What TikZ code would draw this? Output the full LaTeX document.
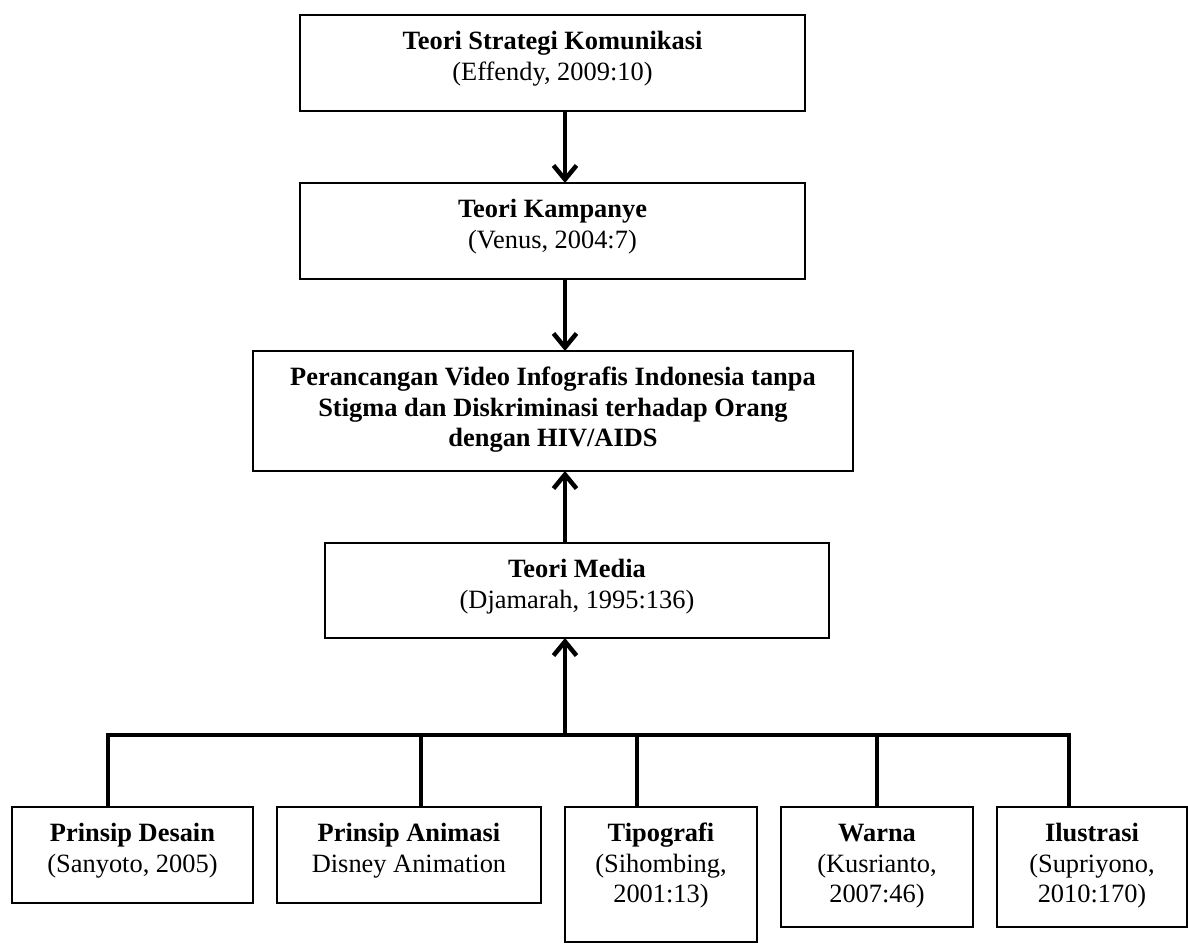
\documentclass[tikz,border=0pt]{standalone}
\usepackage{fontspec}
\setmainfont{Liberation Serif}
\usetikzlibrary{arrows.meta}
\newcommand{\flstrut}{\rule{0pt}{18.5pt}}
\tikzset{
  box/.style={draw=black, line width=1.6pt, inner sep=0pt, outer sep=0pt, fill=white},
  txt/.style={align=center, inner sep=0pt, anchor=north, font=\fontsize{26.4}{30.4}\selectfont},
  arr/.style={line width=4.5pt, -{Straight Barb[length=14pt, width=23pt]}},
  conn/.style={line width=4.5pt, line join=miter}
}
\begin{document}
\begin{tikzpicture}[x=1pt, y=-1pt]
\useasboundingbox (0,0) rectangle (1188,944);
% boxes
\node[box, minimum width=505pt, minimum height=96pt] (t1) at (552.5,63) {};
\node[box, minimum width=505pt, minimum height=96pt] (t2) at (552.5,231) {};
\node[box, minimum width=600pt, minimum height=120pt] (main) at (553,411) {};
\node[box, minimum width=504pt, minimum height=95pt] (media) at (577,590.5) {};
\node[box, minimum width=241pt, minimum height=96pt] (b1) at (132.5,855) {};
\node[box, minimum width=264pt, minimum height=96pt] (b2) at (409,855) {};
\node[box, minimum width=192pt, minimum height=135pt] (b3) at (661,874.5) {};
\node[box, minimum width=192pt, minimum height=120pt] (b4) at (877,867) {};
\node[box, minimum width=190pt, minimum height=120pt] (b5) at (1092,867) {};
% texts
\node[txt] (t1t) at ([yshift=-16pt]t1.north) {\flstrut\textbf{Teori Strategi Komunikasi}\\(Effendy, 2009:10)};
\node[txt] (t2t) at ([yshift=-16pt]t2.north) {\flstrut\textbf{Teori Kampanye}\\(Venus, 2004:7)};
\node[txt, font=\fontsize{26.4}{30.4}\selectfont\bfseries] (maint) at ([yshift=-16pt]main.north) {\flstrut Perancangan Video Infografis Indonesia tanpa\\Stigma dan Diskriminasi terhadap Orang\\dengan HIV/AIDS};
\node[txt] (mediat) at ([yshift=-16pt]media.north) {\flstrut\textbf{Teori Media}\\(Djamarah, 1995:136)};
\node[txt] (b1t) at ([yshift=-16pt]b1.north) {\flstrut\textbf{Prinsip Desain}\\(Sanyoto, 2005)};
\node[txt] (b2t) at ([yshift=-16pt]b2.north) {\flstrut\textbf{Prinsip Animasi}\\Disney Animation};
\node[txt] (b3t) at ([yshift=-16pt]b3.north) {\flstrut\textbf{Tipografi}\\(Sihombing,\\2001:13)};
\node[txt] (b4t) at ([yshift=-16pt]b4.north) {\flstrut\textbf{Warna}\\(Kusrianto,\\2007:46)};
\node[txt] (b5t) at ([yshift=-16pt]b5.north) {\flstrut\textbf{Ilustrasi}\\(Supriyono,\\2010:170)};
% coordinates
\coordinate (sp) at (565,0);
\coordinate (busL) at (108,735);
\coordinate (busR) at (1069,735);
\coordinate (d2) at (421,735);
\coordinate (d3) at (637,735);
\coordinate (d4) at (877,735);
% arrows
\draw[arr] (t1.south -| sp) -- (t2.north -| sp);
\draw[arr] (t2.south -| sp) -- (main.north -| sp);
\draw[arr] (media.north -| sp) -- (main.south -| sp);
\draw[arr] (sp |- busL) -- (media.south -| sp);
% bus and drops
\draw[conn] (b1.north -| busL) -- (busL) -- (busR) -- (b5.north -| busR);
\draw[conn] (d2) -- (d2 |- b2.north);
\draw[conn] (d3) -- (d3 |- b3.north);
\draw[conn] (d4) -- (d4 |- b4.north);
\end{tikzpicture}
\end{document}
